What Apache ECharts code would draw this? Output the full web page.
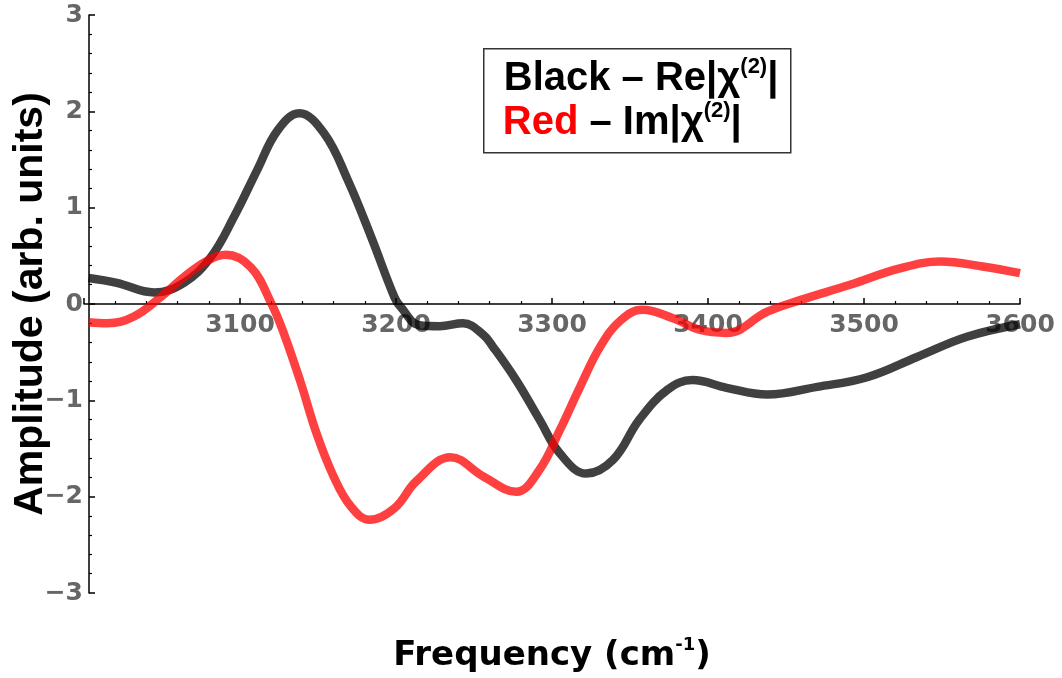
<!DOCTYPE html>
<html>
<head>
<meta charset="utf-8">
<script src="https://cdn.jsdelivr.net/npm/echarts@6/dist/echarts.min.js"></script>
<style>
  html, body { margin: 0; padding: 0; background: #fff; }
  #chart { width: 1062px; height: 678px; }
</style>
</head>
<body>
<div id="chart"></div>
<script>
// Re part (black curve)
var reFreq = [3003, 3021, 3045, 3064, 3081, 3096, 3111, 3124, 3138, 3154, 3169, 3184, 3199, 3203, 3215, 3228, 3243, 3256, 3262, 3277, 3292, 3305, 3322, 3339, 3356, 3374, 3390, 3412, 3438, 3470, 3502, 3534, 3566, 3600];
var reVal  = [0.27, 0.22, 0.12, 0.22, 0.48, 0.90, 1.39, 1.80, 1.98, 1.77, 1.29, 0.70, 0.07, -0.03, -0.22, -0.23, -0.20, -0.32, -0.44, -0.79, -1.20, -1.55, -1.76, -1.62, -1.20, -0.89, -0.79, -0.87, -0.94, -0.86, -0.76, -0.55, -0.34, -0.21];

// Im part (red curve)
var imFreq = [3003, 3015, 3032, 3049, 3064, 3079, 3091, 3107, 3120, 3128, 3139, 3149, 3160, 3171, 3183, 3199, 3213, 3235, 3256, 3277, 3292, 3305, 3318, 3331, 3344, 3358, 3378, 3395, 3412, 3438, 3459, 3491, 3523, 3549, 3576, 3600];
var imVal  = [-0.19, -0.20, -0.13, 0.07, 0.28, 0.45, 0.51, 0.38, 0.01, -0.30, -0.82, -1.34, -1.79, -2.10, -2.24, -2.12, -1.84, -1.59, -1.79, -1.95, -1.72, -1.31, -0.86, -0.44, -0.17, -0.06, -0.15, -0.27, -0.30, -0.08, 0.04, 0.20, 0.37, 0.44, 0.39, 0.32];

var pairs = function(xs, ys) {
	return xs.map(function(x, i) { return [x, ys[i]]; });
};

var chart = echarts.init(document.getElementById('chart'));

var tickFont = {
	color: '#666',
	fontFamily: 'DejaVu Sans',
	fontWeight: 'bold',
	fontSize: 25
};
// graphic text uses zrender style -> fill instead of color
var legendText = {
	fontFamily: 'Liberation Sans',
	fontWeight: 'bold',
	fontSize: 40,
	lineHeight: 46,
	fill: '#000'
};
var legendSup = {
	fontFamily: 'Liberation Sans',
	fontWeight: 'bold',
	fontSize: 22,
	lineHeight: 26,
	fill: '#000',
	verticalAlign: 'top'
};

var option = {
	animation: false,
	grid: { left: 84, right: 42, top: 15, bottom: 85, containLabel: false, outerBoundsMode: 'none' },
	xAxis: {
		type: 'value',
		min: 3000,
		max: 3600,
		interval: 100,
		// axis sits on y = 0: grid bottom (593) moved up to 304
		offset: -289,
		name: '{b|Frequency (cm}{sup|-1}{b|)}',
		nameLocation: 'middle',
		nameGap: 332,
		nameMoveOverlap: false,
		nameTextStyle: {
			rich: {
				b: { fontFamily: 'DejaVu Sans', fontWeight: 'bold', fontSize: 34, color: '#000', lineHeight: 40 },
				sup: { fontFamily: 'DejaVu Sans', fontWeight: 'bold', fontSize: 18, color: '#000', lineHeight: 24, verticalAlign: 'top' }
			}
		},
		axisLine: { onZero: false, lineStyle: { color: '#000', width: 1.5 } },
		axisTick: { inside: true, length: 6, lineStyle: { color: '#000', width: 1.5 } },
		minorTick: { show: true, splitNumber: 5, length: 3, lineStyle: { color: '#000', width: 1.2 } },
		splitLine: { show: false },
		axisLabel: Object.assign({
			margin: 9,
			formatter: function(v) { return v === 3000 ? '' : String(v); }
		}, tickFont)
	},
	yAxis: {
		type: 'value',
		min: -3,
		max: 3,
		interval: 1,
		offset: -5,
		name: 'Amplitude (arb. units)',
		nameLocation: 'middle',
		nameRotate: 90,
		nameGap: 38,
		nameMoveOverlap: false,
		nameTextStyle: {
			fontFamily: 'Liberation Sans',
			fontWeight: 'bold',
			fontSize: 41,
			color: '#000'
		},
		axisLine: { show: true, lineStyle: { color: '#000', width: 1.5 } },
		axisTick: { inside: true, length: 6, lineStyle: { color: '#000', width: 1.5 } },
		minorTick: { show: true, splitNumber: 5, length: 3, lineStyle: { color: '#000', width: 1.2 } },
		splitLine: { show: false },
		axisLabel: Object.assign({
			margin: 6,
			formatter: function(v) { return v < 0 ? '\u2212' + Math.abs(v) : String(v); }
		}, tickFont)
	},
	graphic: [{
		type: 'group',
		left: 483,
		top: 48,
		children: [
			{
				type: 'rect',
				shape: { x: 0, y: 0, width: 307, height: 104 },
				style: { fill: '#fff', stroke: '#333', lineWidth: 1.5 }
			},
			{
				type: 'text',
				x: 20,
				y: 7,
				style: {
					text: '{k|Black \u2013 Re|\u03c7}{s|(2)}{k||}',
					rich: { k: legendText, s: legendSup }
				}
			},
			{
				type: 'text',
				x: 19,
				y: 51,
				style: {
					text: '{r|Red}{k| \u2013 Im|\u03c7}{s|(2)}{k||}',
					rich: {
						k: legendText,
						r: Object.assign({}, legendText, { fill: '#ff0000' }),
						s: legendSup
					}
				}
			}
		]
	}],
	series: [
		{
			name: 'Re',
			type: 'line',
			data: pairs(reFreq, reVal),
			smooth: 0.4,
			showSymbol: false,
			lineStyle: { color: '#000', width: 8.5, opacity: 0.75 },
			z: 2
		},
		{
			name: 'Im',
			type: 'line',
			data: pairs(imFreq, imVal),
			smooth: 0.4,
			showSymbol: false,
			lineStyle: { color: '#ff0000', width: 8.5, opacity: 0.75 },
			z: 3
		}
	]
};

chart.setOption(option);
</script>
</body>
</html>
